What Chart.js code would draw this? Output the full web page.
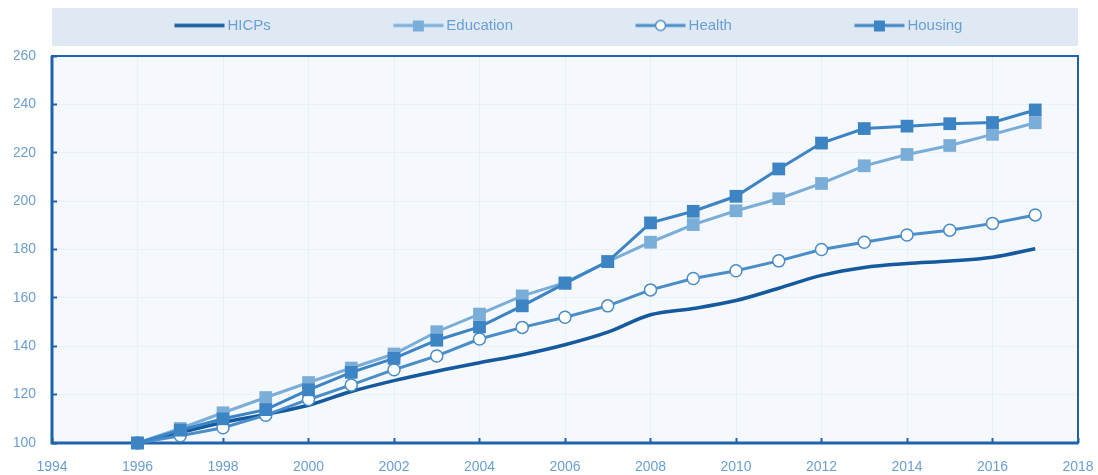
<!DOCTYPE html>
<html>
<head>
<meta charset="utf-8">
<script src="https://cdn.jsdelivr.net/npm/chart.js@4.4.0/dist/chart.umd.min.js"></script>
<style>
  html, body { margin: 0; padding: 0; background: #fff; }
  #wrap { width: 1098px; height: 475px; }
</style>
</head>
<body>
<div id="wrap"><canvas id="chart"></canvas></div>
<script>
// data (index, 1996 = 100)
const years = [1996, 1997, 1998, 1999, 2000, 2001, 2002, 2003, 2004, 2005, 2006,
  2007, 2008, 2009, 2010, 2011, 2012, 2013, 2014, 2015, 2016, 2017]
const hicps = [100, 104.3, 108.5, 111.8, 115.6, 121.3, 125.8, 129.7, 133.2, 136.5, 140.6,
  145.8, 153, 155.6, 158.9, 164, 169.3, 172.6, 174.2, 175.2, 176.8, 180.3]
const education = [100, 106, 112.5, 118.8, 125, 131, 136.8, 146, 153.3, 160.8, 166.3,
  175, 183, 190.3, 196, 201, 207.3, 214.6, 219.3, 223, 227.6, 232.4]
const health = [100, 103, 106.3, 111.5, 118, 124, 130.3, 136, 143, 147.8, 152,
  156.7, 163.3, 168, 171.2, 175.3, 180, 183, 186, 188, 190.8, 194.3]
const housing = [100, 105.3, 110, 113.8, 122, 129.2, 135, 142.5, 148, 156.7, 166,
  175, 191, 195.8, 202, 213.3, 224, 230, 231, 232, 232.5, 237.7]
const seriesNames = ['HICPs', 'Education', 'Health', 'Housing']

const AXIS = '#1f63ad'
const LABEL = '#6a9fd2'
const FONT = "'Liberation Sans', Arial, sans-serif"

const pts = vals => years.map((y, i) => ({x: y, y: vals[i]}))

// small picture for the legend: line with the series marker, sitting at the right end
function legendIcon(color, width, marker) {
  const c = document.createElement('canvas')
  c.width = 168
  c.height = 14
  const g = c.getContext('2d')
  g.strokeStyle = color
  g.lineWidth = width
  g.beginPath()
  g.moveTo(117.5, 7)
  g.lineTo(167.5, 7)
  g.stroke()
  if (marker === 'rect') {
    g.fillStyle = color
    g.fillRect(137, 2, 11, 11)
  } else if (marker === 'circle') {
    g.fillStyle = '#fff'
    g.lineWidth = 1.5
    g.beginPath()
    g.arc(142.5, 7, 5, 0, Math.PI * 2)
    g.fill()
    g.stroke()
  }
  return c
}

const styles = [
  {color: '#15599f', width: 3.5, marker: null},
  {color: '#7aaed9', width: 3, marker: 'rect'},
  {color: '#4a8dc8', width: 3, marker: 'circle'},
  {color: '#3c84c3', width: 3, marker: 'rect'}
]

const chartAreaDeco = {
  id: 'chartAreaDeco',
  beforeInit(chart) {
    const fit = chart.legend.fit
    chart.legend.fit = function () {
      fit.bind(this)()
      this.height += 13
    }
  },
  beforeDraw(chart) {
    const {ctx, chartArea: a, legend} = chart
    ctx.save()
    ctx.fillStyle = '#dfe9f4'
    ctx.fillRect(legend.left, legend.top, legend.width, legend.height - 10)
    ctx.fillStyle = '#f5f8fc'
    ctx.fillRect(a.left, a.top, a.right - a.left, a.bottom - a.top)
    ctx.restore()
  },
  beforeDatasetsDraw(chart) {
    const {ctx, chartArea: a} = chart
    ctx.save()
    ctx.strokeStyle = AXIS
    ctx.lineWidth = 2
    ctx.strokeRect(a.left, a.top, a.right - a.left, a.bottom - a.top)
    ctx.lineWidth = 3
    ctx.beginPath()
    ctx.moveTo(a.left, a.top)
    ctx.lineTo(a.left, a.bottom)
    ctx.lineTo(a.right, a.bottom)
    ctx.stroke()
    ctx.restore()
  }
}

new Chart(document.getElementById('chart'), {
  type: 'line',
  data: {
    datasets: [
      {
        label: seriesNames[0],
        data: pts(hicps),
        borderColor: styles[0].color,
        borderWidth: 3.5,
        pointRadius: 0,
        cubicInterpolationMode: 'monotone',
        clip: false,
        order: 3
      },
      {
        label: seriesNames[1],
        data: pts(education),
        borderColor: styles[1].color,
        backgroundColor: styles[1].color,
        borderWidth: 3,
        pointStyle: 'rect',
        pointRadius: 9,
        pointBorderWidth: 0,
        clip: false,
        order: 2
      },
      {
        label: seriesNames[2],
        data: pts(health),
        borderColor: styles[2].color,
        backgroundColor: '#ffffff',
        borderWidth: 3,
        pointStyle: 'circle',
        pointRadius: 6,
        pointBorderWidth: 1.5,
        clip: false,
        order: 1
      },
      {
        label: seriesNames[3],
        data: pts(housing),
        borderColor: styles[3].color,
        backgroundColor: styles[3].color,
        borderWidth: 3,
        pointStyle: 'rect',
        pointRadius: 9,
        pointBorderWidth: 0,
        clip: false,
        order: 0
      }
    ]
  },
  options: {
    responsive: true,
    maintainAspectRatio: false,
    animation: false,
    layout: {padding: {left: 14, right: 20, top: 8, bottom: 0}},
    scales: {
      x: {
        type: 'linear',
        min: 1994,
        max: 2018,
        afterFit: s => { s.height = 32; s.paddingLeft = 0; s.paddingRight = 0 },
        ticks: {stepSize: 2, color: LABEL, padding: 21, font: {family: FONT, size: 14},
          callback: v => String(v)},
        grid: {color: '#ebf0f7', tickColor: AXIS, tickLength: -5, tickWidth: 2},
        border: {display: false}
      },
      y: {
        min: 100,
        max: 260,
        afterFit: s => { s.width = 38 },
        ticks: {stepSize: 20, color: LABEL, padding: 21, font: {family: FONT, size: 14}},
        grid: {color: '#ebf0f7', tickColor: AXIS, tickLength: -5, tickWidth: 2},
        border: {display: false}
      }
    },
    plugins: {
      tooltip: {enabled: false},
      legend: {
        position: 'top',
        fullSize: false,
        align: 'start',
        labels: {
          usePointStyle: true,
          pointStyleWidth: 158,
          padding: 10,
          color: LABEL,
          font: {family: FONT, size: 15},
          generateLabels: () => seriesNames.map((name, i) => ({
            text: name,
            pointStyle: legendIcon(styles[i].color, styles[i].width, styles[i].marker),
            fontColor: LABEL,
            datasetIndex: i,
            lineWidth: 0,
            hidden: false
          }))
        }
      }
    }
  },
  plugins: [chartAreaDeco]
})
</script>
</body>
</html>
